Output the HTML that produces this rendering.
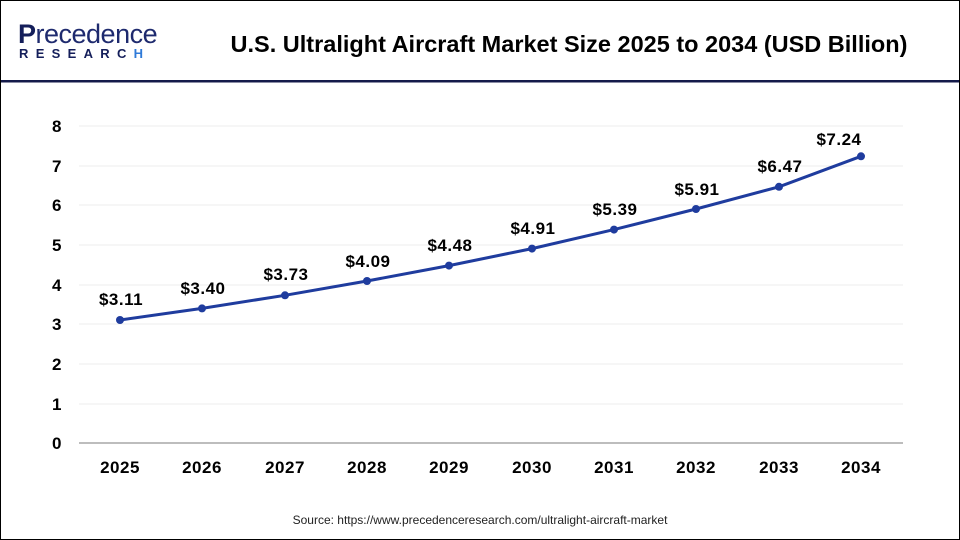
<!DOCTYPE html>
<html><head><meta charset="utf-8"><style>
html,body{margin:0;padding:0;background:#fff}
#c{position:relative;width:958px;height:538px;border:1px solid #000;overflow:hidden;font-family:"Liberation Sans",Arial,sans-serif}
</style></head><body><div id="c">
<svg width="958" height="538" viewBox="1 1 958 538" xmlns="http://www.w3.org/2000/svg" style="position:absolute;left:0;top:0">
<text x="18" y="43" font-family="Liberation Sans,sans-serif" font-size="27" fill="#141e5a" font-weight="bold" letter-spacing="-0.5">P<tspan fill="#1e2a6e" font-weight="normal">recedence</tspan></text>
<text x="19" y="58" font-family="Liberation Sans,sans-serif" font-size="13" fill="#141e5a" font-weight="bold" letter-spacing="7.3">RESEARC<tspan fill="#2f7ad8">H</tspan></text>
<text x="569" y="52" text-anchor="middle" font-family="Liberation Sans,sans-serif" font-size="23.5" font-weight="bold" fill="#000">U.S. Ultralight Aircraft Market Size 2025 to 2034 (USD Billion)</text>
<rect x="1" y="80" width="958" height="2.5" fill="#141a4a"/>
<g stroke="#ececec" stroke-width="1">
<line x1="79" x2="903" y1="126" y2="126"/><line x1="79" x2="903" y1="166" y2="166"/><line x1="79" x2="903" y1="205" y2="205"/><line x1="79" x2="903" y1="245" y2="245"/><line x1="79" x2="903" y1="285" y2="285"/><line x1="79" x2="903" y1="324" y2="324"/><line x1="79" x2="903" y1="364" y2="364"/><line x1="79" x2="903" y1="404" y2="404"/>
</g>
<line x1="79" x2="903" y1="443" y2="443" stroke="#bdbdbd" stroke-width="2"/>
<g font-family="Liberation Sans,sans-serif" font-size="17" font-weight="bold" fill="#000" text-anchor="middle" letter-spacing="0.5">
<text x="57" y="449">0</text><text x="57" y="410">1</text><text x="57" y="370">2</text><text x="57" y="330">3</text><text x="57" y="291">4</text><text x="57" y="251">5</text><text x="57" y="211">6</text><text x="57" y="172">7</text><text x="57" y="132">8</text>
<text x="120" y="473">2025</text><text x="202" y="473">2026</text><text x="285" y="473">2027</text><text x="367" y="473">2028</text><text x="449" y="473">2029</text><text x="532" y="473">2030</text><text x="614" y="473">2031</text><text x="696" y="473">2032</text><text x="779" y="473">2033</text><text x="861" y="473">2034</text>
</g>
<polyline fill="none" stroke="#1f3c9e" stroke-width="3" points="120,320 202,308.4 285,295.3 367,281 449,265.6 532,248.6 614,229.6 696,209 779,186.8 861,156.3"/>
<g fill="#1f3c9e">
<circle cx="120" cy="320" r="4"/><circle cx="202" cy="308.4" r="4"/><circle cx="285" cy="295.3" r="4"/><circle cx="367" cy="281" r="4"/><circle cx="449" cy="265.6" r="4"/><circle cx="532" cy="248.6" r="4"/><circle cx="614" cy="229.6" r="4"/><circle cx="696" cy="209" r="4"/><circle cx="779" cy="186.8" r="4"/><circle cx="861" cy="156.3" r="4"/>
</g>
<g font-family="Liberation Sans,sans-serif" font-size="17" font-weight="bold" fill="#000" text-anchor="middle" letter-spacing="0.5">
<text x="121" y="305">$3.11</text><text x="203" y="294">$3.40</text><text x="286" y="280">$3.73</text><text x="368" y="267">$4.09</text><text x="450" y="251">$4.48</text><text x="533" y="234">$4.91</text><text x="615" y="215">$5.39</text><text x="697" y="195">$5.91</text><text x="780" y="172">$6.47</text><text x="839" y="145">$7.24</text>
</g>
<text x="480" y="524" text-anchor="middle" font-family="Liberation Sans,sans-serif" font-size="12" fill="#222">Source: https://www.precedenceresearch.com/ultralight-aircraft-market</text>
</svg></div></body></html>
